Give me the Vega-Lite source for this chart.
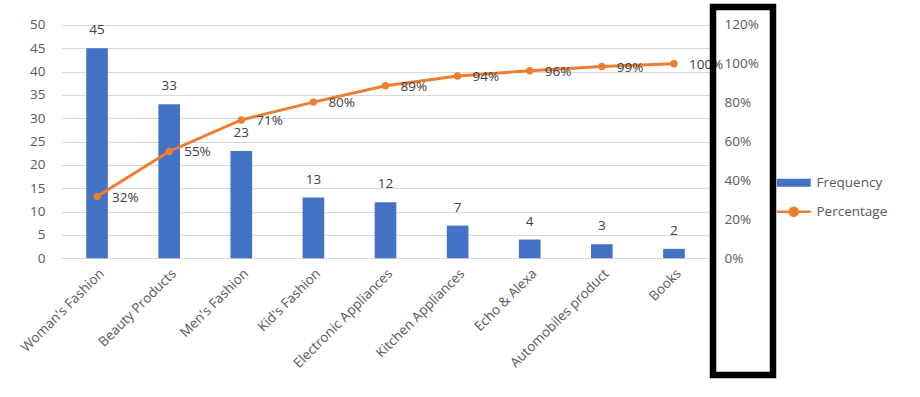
{
  "$schema": "https://vega.github.io/schema/vega-lite/v6.json",
  "background": "white",
  "padding": {"left": 18, "top": 3, "right": 5, "bottom": 5},
  "autosize": {"type": "pad"},
  "bounds": "flush",
  "spacing": 3,
  "data": {
    "values": [
      {"Category": "Woman's Fashion", "Frequency": 45, "Percentage": 0.317},
      {"Category": "Beauty Products", "Frequency": 33, "Percentage": 0.549},
      {"Category": "Men's Fashion", "Frequency": 23, "Percentage": 0.711},
      {"Category": "Kid's Fashion", "Frequency": 13, "Percentage": 0.803},
      {"Category": "Electronic Appliances", "Frequency": 12, "Percentage": 0.887},
      {"Category": "Kitchen Appliances", "Frequency": 7, "Percentage": 0.937},
      {"Category": "Echo & Alexa", "Frequency": 4, "Percentage": 0.964},
      {"Category": "Automobiles product", "Frequency": 3, "Percentage": 0.986},
      {"Category": "Books", "Frequency": 2, "Percentage": 1.0}
    ]
  },
  "config": {
    "font": "Open Sans",
    "view": {"stroke": null},
    "axis": {"labelFont": "Open Sans", "labelFontSize": 13.5, "labelColor": "#595959", "gridColor": "#D9D9D9", "gridWidth": 1},
    "legend": {"labelFont": "Open Sans", "labelFontSize": 13.5, "labelColor": "#595959"}
  },
  "hconcat": [
    {
      "width": 649,
      "height": 368,
      "encoding": {
        "x": {
          "field": "Category",
          "type": "nominal",
          "sort": null,
          "scale": {"paddingInner": 0.7, "paddingOuter": 0.35},
          "axis": {"title": null, "labelAngle": -45, "offset": -116.8, "domain": false, "ticks": false, "labelPadding": 8}
        }
      },
      "layer": [
        {
          "encoding": {
            "y": {
              "field": "Frequency",
              "type": "quantitative",
              "scale": {"domain": [-25.03, 53.84], "nice": false, "zero": false},
              "axis": {"title": null, "values": [0, 5, 10, 15, 20, 25, 30, 35, 40, 45, 50], "domain": false, "ticks": false, "labelPadding": 16, "grid": true}
            }
          },
          "layer": [
            {
              "mark": {"type": "bar"},
              "encoding": {
                "y2": {"datum": 0},
                "color": {
                  "datum": "Frequency",
                  "type": "nominal",
                  "scale": {"domain": ["Frequency", "Percentage"], "range": ["#4472C4", "#ED7D31"]},
                  "legend": {
                    "title": null,
                    "orient": "none",
                    "legendX": 726,
                    "legendY": 169,
                    "padding": 0,
                    "symbolSize": 100,
                    "labelOffset": 16,
                    "rowPadding": 12,
                    "encode": {
                      "symbols": {
                        "update": {
                          "shape": {"signal": "datum.value === 'Frequency' ? 'M-3.4,-0.8H3.4V0.8H-3.4Z' : 'M-3.4,0H3.4M0.8,0A0.8,0.8,0,1,1,-0.8,0A0.8,0.8,0,1,1,0.8,0Z'"},
                          "fill": {"signal": "datum.value === 'Frequency' ? '#4472C4' : '#ED7D31'"},
                          "stroke": {"signal": "datum.value === 'Frequency' ? '#4472C4' : '#ED7D31'"},
                          "strokeWidth": {"signal": "datum.value === 'Frequency' ? 0 : 2.5"},
                          "opacity": {"value": 1},
                          "fillOpacity": {"value": 1}
                        }
                      }
                    }
                  }
                }
              }
            },
            {
              "mark": {"type": "text", "baseline": "middle", "dy": -18, "fontSize": 13.5, "color": "#404040"},
              "encoding": {"text": {"field": "Frequency", "type": "quantitative"}}
            }
          ]
        },
        {
          "encoding": {
            "y": {
              "field": "Percentage",
              "type": "quantitative",
              "scale": {"domain": [-0.6008, 1.2921], "nice": false, "zero": false},
              "axis": null
            }
          },
          "layer": [
            {
              "mark": {"type": "line", "strokeWidth": 3, "point": {"filled": true, "size": 55}},
              "encoding": {"color": {"datum": "Percentage", "type": "nominal"}}
            },
            {
              "mark": {"type": "text", "align": "left", "baseline": "middle", "dx": 15, "dy": 1, "fontSize": 13.5, "color": "#404040"},
              "encoding": {"text": {"field": "Percentage", "type": "quantitative", "format": ".0%"}}
            }
          ]
        }
      ],
      "resolve": {"scale": {"y": "independent"}}
    },
    {
      "width": 60,
      "height": 368,
      "view": {"stroke": "black", "strokeWidth": 6.5},
      "mark": {"type": "point", "opacity": 0},
      "encoding": {
        "y": {
          "field": "Percentage",
          "type": "quantitative",
          "scale": {"domain": [-0.6008, 1.2921], "nice": false, "zero": false},
          "axis": {"title": null, "orient": "right", "offset": -60, "values": [0, 0.2, 0.4, 0.6, 0.8, 1.0, 1.2], "format": ".0%", "domain": false, "ticks": false, "grid": false, "labelPadding": 11}
        }
      }
    }
  ]
}
